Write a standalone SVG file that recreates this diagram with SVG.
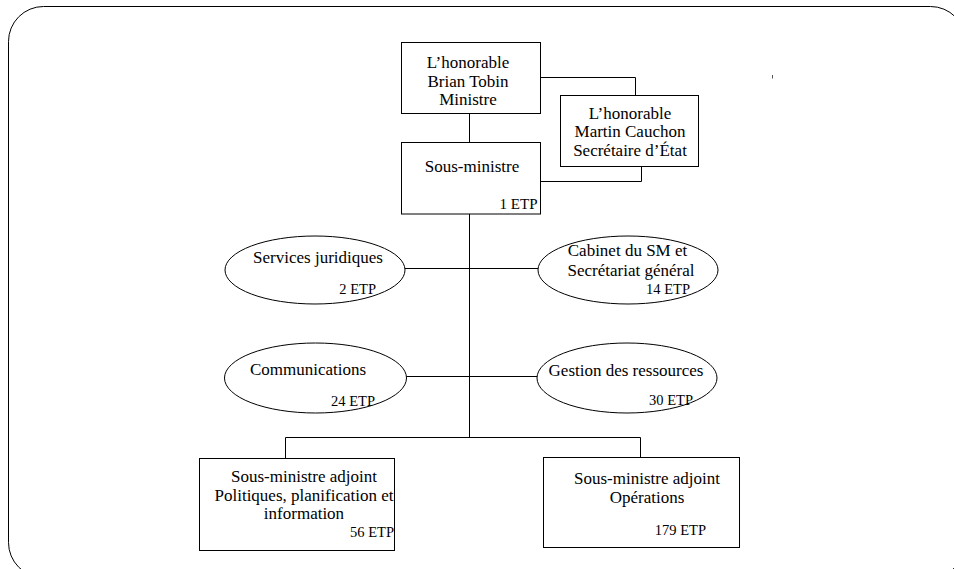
<svg xmlns="http://www.w3.org/2000/svg" width="954" height="569" viewBox="0 0 954 569">
<style>
.box{fill:#fff;stroke:#000;stroke-width:1}
.ell{fill:#fff;stroke:#000;stroke-width:1}
.frame{fill:#fff;stroke:#000;stroke-width:1}
.con{fill:none;stroke:#000;stroke-width:1}
text{font-family:"Liberation Serif","Times New Roman",serif;font-size:17px;fill:#000}
.c{text-anchor:middle}
.etp{text-anchor:end;font-size:14.5px}
</style>
<rect class="frame" x="8.5" y="6.5" width="957" height="571" rx="35" ry="35"/>
<g id="connectors">
<line class="con" x1="469.5" y1="113.5" x2="469.5" y2="142.5"/>
<polyline class="con" points="540.5,77.5 635.5,77.5 635.5,95.5"/>
<polyline class="con" points="641.5,166.5 641.5,181.5 540.5,181.5"/>
<line class="con" x1="469.5" y1="214" x2="469.5" y2="437.5"/>
<line class="con" x1="404" y1="268.5" x2="538.5" y2="268.5"/>
<line class="con" x1="405" y1="376.5" x2="537.5" y2="376.5"/>
<polyline class="con" points="285.5,458.5 285.5,437.5 640.5,437.5 640.5,457.5"/>
<line x1="772.5" y1="75" x2="772.5" y2="78.5" stroke="#555" stroke-width="1"/>
</g>
<g id="ministre">
<rect class="box" x="401.5" y="42.5" width="139" height="71"/>
<text class="c" x="468" y="67.5">L’honorable</text>
<text class="c" x="468" y="86.5">Brian Tobin</text>
<text class="c" x="468" y="105">Ministre</text>
</g>
<g id="secretaire">
<rect class="box" x="560.5" y="95.5" width="138" height="71"/>
<text class="c" x="630" y="118.5">L’honorable</text>
<text class="c" x="630" y="137">Martin Cauchon</text>
<text class="c" x="630" y="155.5">Secrétaire d’État</text>
</g>
<g id="sous-ministre">
<rect class="box" x="401.5" y="142.5" width="139" height="71.5"/>
<text class="c" x="472" y="172">Sous-ministre</text>
<text class="etp" x="537.5" y="208.5" style="font-size:15px">1 ETP</text>
</g>
<g id="services-juridiques">
<ellipse class="ell" cx="315" cy="270" rx="90" ry="34"/>
<text class="c" x="318" y="262.5">Services juridiques</text>
<text class="etp" x="376" y="293.5">2 ETP</text>
</g>
<g id="cabinet">
<ellipse class="ell" cx="628" cy="270" rx="90" ry="34"/>
<text class="c" x="627.5" y="255.5">Cabinet du SM et</text>
<text class="c" x="631" y="275.5">Secrétariat général</text>
<text class="etp" x="690" y="293.5">14 ETP</text>
</g>
<g id="communications">
<ellipse class="ell" cx="315.5" cy="378" rx="91" ry="35"/>
<text class="c" x="308" y="375">Communications</text>
<text class="etp" x="375" y="406">24 ETP</text>
</g>
<g id="gestion">
<ellipse class="ell" cx="627" cy="378" rx="90" ry="35"/>
<text class="c" x="626" y="375.5">Gestion des ressources</text>
<text class="etp" x="693" y="405">30 ETP</text>
</g>
<g id="sma-politiques">
<rect class="box" x="199.5" y="458.5" width="195" height="92"/>
<text class="c" x="304" y="482">Sous-ministre adjoint</text>
<text class="c" x="304" y="500.5">Politiques, planification et</text>
<text class="c" x="304" y="519">information</text>
<text class="etp" x="394" y="537">56 ETP</text>
</g>
<g id="sma-operations">
<rect class="box" x="543.5" y="457.5" width="196" height="90"/>
<text class="c" x="647" y="484">Sous-ministre adjoint</text>
<text class="c" x="647" y="503">Opérations</text>
<text class="etp" x="706" y="535">179 ETP</text>
</g>
</svg>
